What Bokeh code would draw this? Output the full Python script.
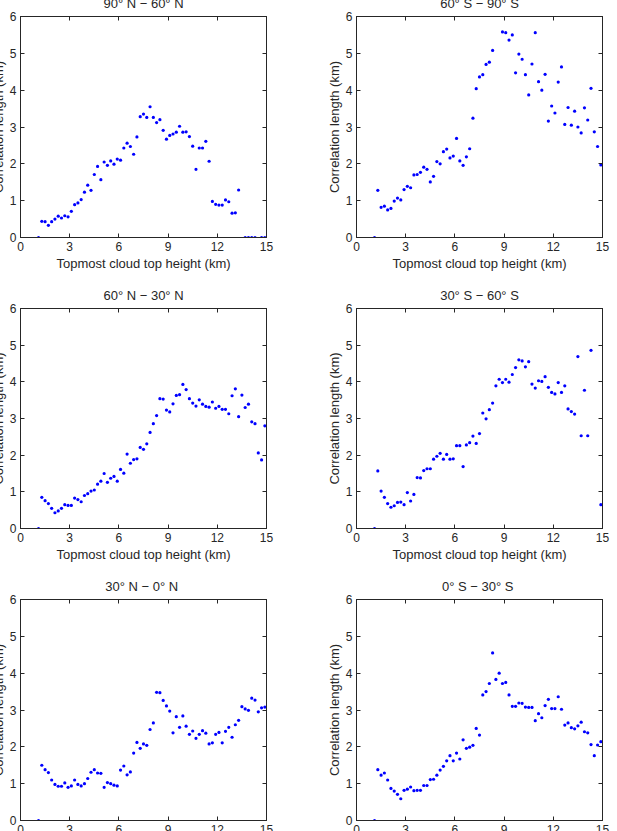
from bokeh.plotting import figure
from bokeh.models import FixedTicker, LinearAxis, Range1d
from bokeh.layouts import column, row
from bokeh.embed import file_html
from bokeh.resources import INLINE

nan = float("nan")

# Topmost cloud top height bins (km)
cloud_top_km = [1.1, 1.3, 1.5, 1.7, 1.9, 2.1, 2.3, 2.5, 2.7, 2.9,
                3.1, 3.3, 3.5, 3.7, 3.9, 4.1, 4.3, 4.5, 4.7, 4.9,
                5.1, 5.3, 5.5, 5.7, 5.9, 6.1, 6.3, 6.5, 6.7, 6.9,
                7.1, 7.3, 7.5, 7.7, 7.9, 8.1, 8.3, 8.5, 8.7, 8.9,
                9.1, 9.3, 9.5, 9.7, 9.9, 10.1, 10.3, 10.5, 10.7, 10.9,
                11.1, 11.3, 11.5, 11.7, 11.9, 12.1, 12.3, 12.5, 12.7, 12.9,
                13.1, 13.3, 13.5, 13.7, 13.9, 14.1, 14.3, 14.5, 14.7, 14.9]

# Correlation length (km) per latitude band
corr_90N_60N = [0, 0.44, 0.43, 0.33, 0.43, 0.50, 0.58, 0.53, 0.59, 0.56,
                0.71, 0.89, 0.94, 1.03, 1.23, 1.42, 1.28, 1.71, 1.93, 1.57,
                2.05, 1.96, 2.08, 1.99, 2.13, 2.10, 2.43, 2.56, 2.47, 2.26,
                2.73, 3.28, 3.35, 3.26, 3.55, 3.26, 3.12, 3.20, 2.91, 2.67,
                2.77, 2.81, 2.86, 3.02, 2.86, 2.87, 2.74, 2.48, 1.85, 2.43,
                2.43, 2.61, 2.07, 0.98, 0.90, 0.88, 0.88, 1.02, 0.97, 0.66,
                0.67, 1.29, nan, 0, 0, 0, 0, nan, 0, 0]

corr_60S_90S = [0, 1.28, 0.82, 0.85, 0.75, 0.79, 0.99, 1.07, 1.02, 1.30,
                1.39, 1.35, 1.70, 1.71, 1.77, 1.91, 1.85, 1.51, 1.66, 2.06,
                2.00, 2.33, 2.40, 2.16, 2.21, 2.69, 2.08, 1.96, 2.19, 2.41,
                3.24, 4.04, 4.36, 4.42, 4.70, 4.76, 5.08, nan, nan, 5.58,
                5.56, 5.36, 5.50, 4.47, 4.98, 4.84, 4.42, 3.87, 4.71, 5.56,
                4.23, 4.00, 4.43, 3.16, 3.57, 3.38, 4.22, 4.63, 3.07, 3.53,
                3.05, 3.43, 3.00, 2.84, 3.52, 3.19, 4.05, 2.87, 2.47, 1.97]

corr_60N_30N = [0, 0.85, 0.76, 0.68, 0.55, 0.43, 0.48, 0.55, 0.65, 0.63,
                0.63, 0.83, 0.79, 0.73, 0.90, 0.95, 1.02, 1.05, 1.21, 1.29,
                1.50, 1.26, 1.37, 1.42, 1.29, 1.61, 1.51, 2.03, 1.78, 1.88,
                1.90, 2.21, 2.16, 2.31, 2.62, 2.86, 3.08, 3.54, 3.53, 3.23,
                3.18, 3.40, 3.63, 3.65, 3.93, 3.79, 3.54, 3.42, 3.34, 3.51,
                3.39, 3.33, 3.31, 3.45, 3.28, 3.33, 3.25, 3.25, 3.13, 3.62,
                3.81, 3.05, 3.64, 3.30, 3.39, 2.91, 2.86, 2.06, 1.87, 2.80]

corr_30S_60S = [0, 1.57, 1.02, 0.85, 0.68, 0.58, 0.62, 0.71, 0.72, 0.65,
                0.98, 0.75, 0.93, 1.39, 1.38, 1.58, 1.63, 1.63, 1.89, 1.97,
                2.05, 1.89, 2.02, 1.89, 1.90, 2.26, 2.26, 1.69, 2.28, 2.34,
                2.52, 2.32, 2.59, 3.15, 2.99, 3.24, 3.42, 3.89, 4.07, 3.98,
                4.07, 3.99, 4.20, 4.39, 4.60, 4.57, 4.41, 4.55, 3.94, 3.83,
                4.03, 4.01, 4.14, 3.85, 3.71, 3.67, 3.98, 3.71, 3.89, 3.26,
                3.19, 3.12, 4.69, 2.53, 3.77, 2.53, 4.86, nan, nan, 0.65]

corr_30N_0N = [0, 1.50, 1.38, 1.30, 1.10, 0.98, 0.93, 0.93, 1.02, 0.90,
               0.94, 1.10, 0.98, 0.94, 1.00, 1.14, 1.31, 1.38, 1.29, 1.28,
               0.90, 1.03, 1.00, 0.96, 0.94, 1.37, 1.48, 1.24, 1.32, 1.83,
               2.12, 1.96, 2.08, 2.04, 2.47, 2.65, 3.48, 3.47, 3.26, 3.11,
               2.97, 2.38, 2.82, 2.53, 2.84, 2.56, 2.34, 2.43, 2.23, 2.34,
               2.44, 2.37, 2.08, 2.11, 2.34, 2.39, 2.11, 2.42, 2.53, 2.26,
               2.60, 2.72, 3.09, 3.03, 2.99, 3.32, 3.27, 2.95, 3.06, 3.08]

corr_0S_30S = [0, 1.38, 1.23, 1.29, 1.10, 0.87, 0.80, 0.71, 0.59, 0.82,
               0.85, 0.91, 0.81, 0.82, 0.82, 0.95, 0.95, 1.11, 1.12, 1.23,
               1.37, 1.47, 1.62, 1.76, 1.62, 1.83, 1.67, 2.19, 1.96, 1.99,
               2.04, 2.50, 2.32, 3.41, 3.50, 3.72, 4.55, 3.83, 4.00, 3.72,
               3.75, 3.41, 3.10, 3.10, 3.19, 3.18, 3.08, 3.07, 3.07, 2.71,
               2.90, 2.79, 3.12, 3.29, 3.04, 3.04, 3.36, 3.02, 2.59, 2.65,
               2.52, 2.49, 2.57, 2.67, 2.41, 2.38, 2.06, 1.76, 2.05, 2.14]

titles = ["90° N − 60° N", "60° S − 90° S",
          "60° N − 30° N", "30° S − 60° S",
          "30° N −  0° N", "0° S −  30° S"]
series = [corr_90N_60N, corr_60S_90S, corr_60N_30N, corr_30S_60S, corr_30N_0N, corr_0S_30S]

x_ticks = [0, 3, 6, 9, 12, 15]
y_ticks = [0, 1, 2, 3, 4, 5, 6]
x_label = "Topmost cloud top height (km)"
y_label = "Correlation length (km)"

FONT = "Liberation Sans"
AX = "#262626"
TXT = "#262626"


def style_axis(ax, ticks, show_labels=True):
    ax.ticker = FixedTicker(ticks=ticks)
    ax.axis_line_color = AX
    ax.axis_line_width = 1
    ax.major_tick_line_color = AX
    ax.major_tick_in = 4
    ax.major_tick_out = 0
    ax.minor_tick_line_color = None
    ax.major_label_text_font = FONT
    if show_labels:
        ax.major_label_text_color = TXT
        ax.major_label_text_font_size = "12px"
        ax.major_label_standoff = 4
        ax.axis_label_text_font = FONT
        ax.axis_label_text_font_size = "13px"
        ax.axis_label_text_font_style = "normal"
        ax.axis_label_text_color = TXT
    else:
        ax.major_label_text_color = None
        ax.major_label_text_font_size = "1px"
        ax.major_label_standoff = 0


def panel(title, yvals, bl, br, bt, bb, fh, styles):
    p = figure(width=bl + 246 + br, height=bt + fh + bb,
               x_range=Range1d(0, 15), y_range=Range1d(0, 6),
               output_backend="svg", toolbar_location=None, tools="", title=title,
               min_border_left=bl, min_border_right=br, min_border_top=bt, min_border_bottom=bb,
               styles=styles)
    p.grid.visible = False
    p.outline_line_color = AX
    p.background_fill_color = "white"
    p.border_fill_color = None
    p.title.align = "center"
    p.title.vertical_align = "middle"
    p.title.text_font = FONT
    p.title.text_font_size = "13px"
    p.title.text_font_style = "normal"
    p.title.text_color = TXT

    style_axis(p.xaxis[0], x_ticks)
    p.xaxis[0].axis_label = x_label
    p.xaxis[0].axis_label_standoff = 2
    style_axis(p.yaxis[0], y_ticks)
    p.yaxis[0].axis_label = y_label
    p.yaxis[0].axis_label_standoff = 1

    top = LinearAxis()
    style_axis(top, x_ticks, show_labels=False)
    p.add_layout(top, "above")
    right = LinearAxis()
    style_axis(right, y_ticks, show_labels=False)
    p.add_layout(right, "right")

    p.scatter(cloud_top_km, yvals, size=3.2, fill_color="#0000ff", line_color=None)
    return p


# (row top margin, top border, frame height, bottom border)
row_specs = [(-12, 28, 221, 43), (0, 28, 220, 45), (-2, 28, 221, 45)]
rows = []
for r, (mt, bt, fh, bb) in enumerate(row_specs):
    left = panel(titles[2 * r], series[2 * r], 40, 41, bt, bb, fh, {"margin-left": "-20px"})
    right = panel(titles[2 * r + 1], series[2 * r + 1], 49, 15, bt, bb, fh, {})
    rows.append(row(left, right, styles={"margin-top": f"{mt}px"}))

layout = column(*rows, width=617, height=831, styles={"overflow": "hidden"})

open("out.html", "w").write(file_html(layout, INLINE))
